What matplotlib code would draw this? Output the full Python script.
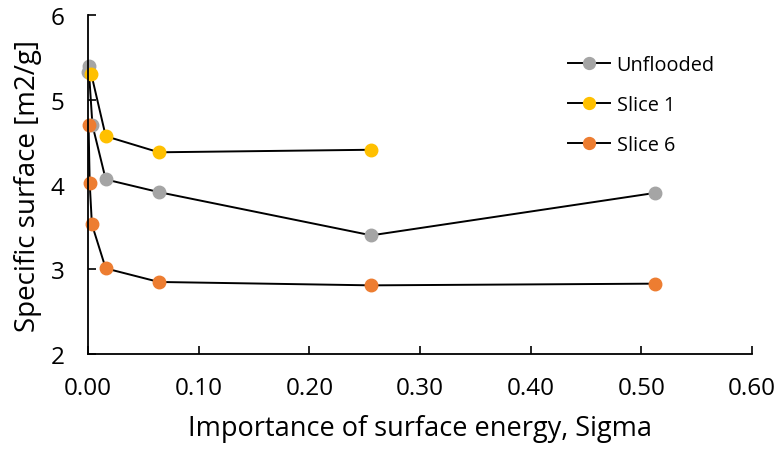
import numpy as np
import matplotlib
matplotlib.use("Agg")
import matplotlib.pyplot as plt

plt.rcParams['font.family'] = ['Open Sans', 'DejaVu Sans']

# data
x_unflooded = [0.0, 0.0005, 0.004, 0.016, 0.064, 0.256, 0.512]
y_unflooded = [5.33, 5.40, 4.70, 4.06, 3.91, 3.40, 3.90]

x_slice1 = [0.003, 0.016, 0.064, 0.256]
y_slice1 = [5.30, 4.57, 4.38, 4.41]

x_slice6 = [0.0005, 0.0015, 0.0035, 0.016, 0.064, 0.256, 0.512]
y_slice6 = [4.70, 4.02, 3.53, 3.01, 2.85, 2.81, 2.83]

series = [
    ('Unflooded', x_unflooded, y_unflooded, '#a5a5a5'),
    ('Slice 1', x_slice1, y_slice1, '#ffc000'),
    ('Slice 6', x_slice6, y_slice6, '#ed7d31'),
]

xticks = [0.0, 0.1, 0.2, 0.3, 0.4, 0.5, 0.6]
yticks = [2, 3, 4, 5, 6]

fig = plt.figure(figsize=(7.79, 4.52), dpi=100)
ax = fig.add_axes([0.113, 0.2146, 0.8524, 0.75])

for name, xs, ys, col in series:
    ax.plot(xs, ys, color='black', lw=1.4, marker='o', markersize=9,
            markerfacecolor=col, markeredgecolor=col, label=name, clip_on=False)

ax.set_xlim(0, 0.6)
ax.set_ylim(2, 6)
ax.set_xticks(xticks)
ax.set_xticklabels(['%.2f' % v for v in xticks])
ax.set_yticks(yticks)
ax.tick_params(axis='both', direction='in', length=6, width=1.2, labelsize=17.5)
ax.tick_params(axis='y', pad=17)
ax.tick_params(axis='x', pad=16)
for s in ['top', 'right']:
    ax.spines[s].set_visible(False)
for s in ['left', 'bottom']:
    ax.spines[s].set_linewidth(1.3)
    ax.spines[s].set_color('black')

ax.set_xlabel('Importance of surface energy, Sigma', fontsize=19.5, labelpad=10)
ax.set_ylabel('Specific surface [m2/g]', fontsize=20, labelpad=6)

ax.legend(loc='upper left', bbox_to_anchor=(568 / 779, 1 - 56 / 452),
          bbox_transform=fig.transFigure, frameon=False, borderpad=0,
          borderaxespad=0, fontsize=14.3, labelspacing=1.0,
          handlelength=2.1, handletextpad=0.35, markerscale=0.95)

fig.savefig('out.png', dpi=100)
